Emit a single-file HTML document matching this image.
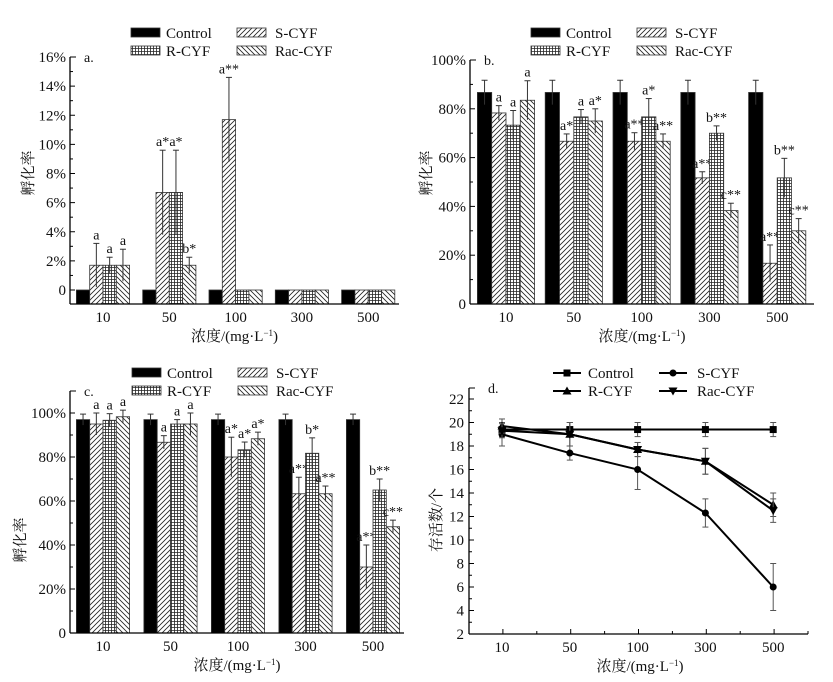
<!DOCTYPE html>
<html><head><meta charset="utf-8"><style>
body{margin:0;background:#fff}
svg{display:block}
text{font-family:"Liberation Serif","Noto Serif CJK SC",serif;fill:#111}
</style></head><body>
<svg id="chart" width="833" height="682" viewBox="0 0 833 682" xmlns="http://www.w3.org/2000/svg">
<defs>
<pattern id="pS" patternUnits="userSpaceOnUse" width="5" height="5"><rect width="5" height="5" fill="#fff"/><path d="M-1,6 L6,-1 M-1,1 L1,-1 M4,6 L6,4" stroke="#222" stroke-width="0.8"/></pattern>
<pattern id="pRac" patternUnits="userSpaceOnUse" width="5" height="5"><rect width="5" height="5" fill="#fff"/><path d="M-1,-1 L6,6 M4,-1 L6,1 M-1,4 L1,6" stroke="#222" stroke-width="0.8"/></pattern>
<pattern id="pR" patternUnits="userSpaceOnUse" width="3" height="3"><rect width="3" height="3" fill="#fff"/><path d="M0,0.5 H3 M0.5,0 V3" stroke="#222" stroke-width="0.8"/></pattern>
</defs>
</svg>
<script>
const categories = ["10","50","100","300","500"];
const seriesNames = ["Control","S-CYF","R-CYF","Rac-CYF"];
// panel a (%)
const aControl=[0,0,0,0,0], aS=[1.7,6.7,11.7,0,0], aR=[1.7,6.7,0,0,0], aRac=[1.7,1.7,0,0,0];
const aErrC=[0,0,0,0,0], aErrS=[1.5,2.9,2.9,0,0], aErrR=[0.55,2.9,0,0,0], aErrRac=[1.1,0.55,0,0,0];
const aLabS=["a","a*","a**","",""], aLabR=["a","a*","","",""], aLabRac=["a","b*","","",""];
const aTicks=[0,2,4,6,8,10,12,14,16];
// panel b (%)
const bControl=[86.7,86.7,86.7,86.7,86.7], bS=[78.3,66.7,66.7,51.7,16.7], bR=[73.3,76.7,76.7,70,51.7], bRac=[83.5,75,66.7,38.3,30];
const bErrC=[5,5,5,5,5], bErrS=[3,3,3.5,2.5,7.5], bErrR=[6,3,7.5,3,8], bErrRac=[8,5,3,3,5];
const bLabS=["a","a*","a**","a**","a**"], bLabR=["a","a","a*","b**","b**"], bLabRac=["a","a*","a**","c**","c**"];
const bTicks=[0,20,40,60,80,100];
// panel c (%)
const cControl=[97,97,97,97,97], cS=[95,86.7,80,63.3,30], cR=[96.7,95,83.3,81.7,65], cRac=[98.3,95,88.3,63.3,48.3];
const cErrC=[2.5,2.5,2.5,2.5,2.5], cErrS=[5,3,9,7.5,10], cErrR=[3,2,3.5,7,5], cErrRac=[3,5,3,3.5,3];
const cLabS=["a","a","a*","a**","a**"], cLabR=["a","a","a*","b*","b**"], cLabRac=["a","a","a*","a**","c**"];
const cTicks=[0,20,40,60,80,100];
// panel d (count)
const dControl=[19.4,19.4,19.4,19.4,19.4], dS=[19,17.4,16,12.3,6], dR=[19.7,19,17.7,16.7,13], dRac=[19.3,19,17.7,16.7,12.5];
const dErrC=[0.6,0.6,0.6,0.6,0.6], dErrS=[1,0.6,1.7,1.2,2], dErrR=[0.6,1,0.6,1.1,1], dErrRac=[0.6,1,0.6,1.1,1];
const dTicks=[2,4,6,8,10,12,14,16,18,20,22];

const NS="http://www.w3.org/2000/svg", svg=document.getElementById("chart");
function el(tag,attrs,parent,txt){const e=document.createElementNS(NS,tag);for(const k in attrs)e.setAttribute(k,attrs[k]);if(txt!==undefined)e.textContent=txt;(parent||svg).appendChild(e);return e;}

function legend(g,x0,y0,line){
  const fills=["#000","url(#pS)","url(#pR)","url(#pRac)"];
  const pos=[[0,0],[106,0],[0,18],[106,18]];
  const marks=["sq","circ","tri","itri"];
  for(let i=0;i<4;i++){
    const lx=x0+pos[i][0], ly=y0+pos[i][1];
    const it=el("g",{},g);
    
    
    if(!line){el("rect",{x:lx,y:ly,width:29,height:9,fill:fills[i],stroke:"#333","stroke-width":0.8},it);}
    else{el("line",{x1:lx,x2:lx+28,y1:ly+5,y2:ly+5,stroke:"#000","stroke-width":2},it);marker(it,marks[i],lx+14,ly+5,3.5);}
    el("text",{x:lx+(i%2?38:35),y:ly+10,"font-size":15},it,seriesNames[i]);
  }
}
function marker(g,t,x,y,r){
  if(t=="sq")el("rect",{x:x-r,y:y-r,width:2*r,height:2*r,fill:"#000"},g);
  else if(t=="circ")el("circle",{cx:x,cy:y,r:r,fill:"#000"},g);
  else if(t=="tri")el("path",{d:`M${x},${y-r-1}L${x+r+1},${y+r}L${x-r-1},${y+r}Z`,fill:"#000"},g);
  else el("path",{d:`M${x},${y+r+1}L${x+r+1},${y-r}L${x-r-1},${y-r}Z`,fill:"#000"},g);
}

function barPanel(o){
  const g=el("g",{});
  
  
  const yS=v=>o.y0-(v-o.vmin)*(o.y0-o.y1)/(o.vmax-o.vmin);
  const cx=i=>o.c0+i*o.step;
  legend(g,o.lx,o.ly,false);
  el("text",{x:o.left+14,y:o.top+5,"font-size":14},g,o.id+".");
  const fills=["#000","url(#pS)","url(#pR)","url(#pRac)"];
  const sN=["control","s-cyf","r-cyf","rac-cyf"];
  for(let i=0;i<categories.length;i++){
    for(let s=0;s<4;s++){
      const v=o.vals[s][i], e=o.errs[s][i];
      const x=cx(i)-2*o.bw+s*o.bw, yt=yS(v);
      const b=el("rect",{x:x,y:yt,width:o.bw,height:o.bottom-yt,fill:fills[s],stroke:"#333","stroke-width":0.8},g);
      
      
      const mx=x+o.bw/2;
      if(e>0){
        el("line",{x1:mx,x2:mx,y1:yS(v+e),y2:yS(v-e),stroke:"#333","stroke-width":1},g);
        el("line",{x1:mx-3,x2:mx+3,y1:yS(v+e),y2:yS(v+e),stroke:"#333","stroke-width":1},g);
      }
      if(s>0){const lab=o.labs[s-1][i]; if(lab) el("text",{x:mx,y:yS(v+e)-4,"font-size":14,"text-anchor":"middle"},g,lab);}
    }
    el("text",{x:cx(i),y:o.bottom+18,"font-size":15,"text-anchor":"middle"},g,categories[i]);
  }
  el("line",{x1:o.left,x2:o.left,y1:o.top,y2:o.bottom,stroke:"#000","stroke-width":1.3},g);
  el("line",{x1:o.left,x2:o.right,y1:o.bottom,y2:o.bottom,stroke:"#000","stroke-width":1.3},g);
  el("line",{x1:o.left,x2:o.left+6,y1:o.top,y2:o.top,stroke:"#000"},g);
  for(let k=0;k<o.ticks.length;k++){
    const t=o.ticks[k], y=yS(t);
    el("line",{x1:o.left,x2:o.left+5,y1:y,y2:y,stroke:"#000"},g);
    if(k<o.ticks.length-1){const ym=yS((t+o.ticks[k+1])/2);el("line",{x1:o.left,x2:o.left+3,y1:ym,y2:ym,stroke:"#000"},g);}
    el("text",{x:o.left-4,y:y+5,"font-size":15,"text-anchor":"end"},g,t==0?"0":t+"%");
  }
  el("text",{x:o.ylx,y:o.yly,"font-size":15,"text-anchor":"middle",transform:`rotate(-90 ${o.ylx} ${o.yly})`},g,"孵化率");
  const xt=el("text",{x:(o.left+o.right)/2,y:o.bottom+37,"font-size":15,"text-anchor":"middle"},g);
  xt.innerHTML='浓度/(mg·L<tspan dy="-5" font-size="9">−1</tspan><tspan dy="5">)</tspan>';
}

barPanel({id:"a",left:70,right:399,top:57,bottom:304,y0:290,y1:57,vmin:0,vmax:16,c0:103,step:66.3,bw:13.3,
  vals:[aControl,aS,aR,aRac],errs:[aErrC,aErrS,aErrR,aErrRac],labs:[aLabS,aLabR,aLabRac],ticks:aTicks,lx:131,ly:28,ylx:33,yly:173});
barPanel({id:"b",left:470,right:814,top:60,bottom:304,y0:304,y1:60,vmin:0,vmax:100,c0:506,step:67.8,bw:14.3,
  vals:[bControl,bS,bR,bRac],errs:[bErrC,bErrS,bErrR,bErrRac],labs:[bLabS,bLabR,bLabRac],ticks:bTicks,lx:531,ly:28,ylx:431,yly:173});
barPanel({id:"c",left:70,right:404,top:391,bottom:633,y0:633,y1:413,vmin:0,vmax:100,c0:103,step:67.5,bw:13.3,
  vals:[cControl,cS,cR,cRac],errs:[cErrC,cErrS,cErrR,cErrRac],labs:[cLabS,cLabR,cLabRac],ticks:cTicks,lx:132,ly:368,ylx:25,yly:540});

(function(){
  const g=el("g",{});
  
  
  const left=469,right=808,top=388,bottom=634;
  const yS=v=>634-(v-2)*11.75;
  const xS=i=>502+i*67.8;
  legend(g,553,368,true);
  el("text",{x:488,y:393,"font-size":14},g,"d.");
  el("line",{x1:left,x2:left,y1:top,y2:bottom,stroke:"#000","stroke-width":1.3},g);
  el("line",{x1:left,x2:right,y1:bottom,y2:bottom,stroke:"#000","stroke-width":1.3},g);
  el("line",{x1:left,x2:left+6,y1:top,y2:top,stroke:"#000"},g);
  for(let k=0;k<dTicks.length;k++){
    const y=yS(dTicks[k]);
    el("line",{x1:left,x2:left+5,y1:y,y2:y,stroke:"#000"},g);
    if(k<dTicks.length-1){const ym=yS(dTicks[k]+1);el("line",{x1:left,x2:left+3,y1:ym,y2:ym,stroke:"#000"},g);}
    el("text",{x:left-5,y:y+5,"font-size":15,"text-anchor":"end"},g,String(dTicks[k]));
  }
  for(let i=0;i<=10;i++){const x=left+i*33.9;el("line",{x1:x,x2:x,y1:bottom,y2:bottom-(i%2?5:3),stroke:"#000"},g);}
  categories.forEach((c,i)=>el("text",{x:xS(i),y:bottom+18,"font-size":15,"text-anchor":"middle"},g,c));
  el("text",{x:441,y:520,"font-size":15,"text-anchor":"middle",transform:"rotate(-90 441 520)"},g,"存活数/个");
  const xt=el("text",{x:640,y:671,"font-size":15,"text-anchor":"middle"},g);
  xt.innerHTML='浓度/(mg·L<tspan dy="-5" font-size="9">−1</tspan><tspan dy="5">)</tspan>';
  const sers=[[dControl,dErrC,"sq","control"],[dS,dErrS,"circ","s-cyf"],[dR,dErrR,"tri","r-cyf"],[dRac,dErrRac,"itri","rac-cyf"]];
  sers.forEach(([vals,errs,m,n])=>{
    const sg=el("g",{},g);
    
    
    vals.forEach((v,i)=>{
      const x=xS(i);
      el("line",{x1:x,x2:x,y1:yS(v+errs[i]),y2:yS(v-errs[i]),stroke:"#555","stroke-width":1},sg);
      el("line",{x1:x-3,x2:x+3,y1:yS(v+errs[i]),y2:yS(v+errs[i]),stroke:"#555"},sg);
      el("line",{x1:x-3,x2:x+3,y1:yS(v-errs[i]),y2:yS(v-errs[i]),stroke:"#555"},sg);
    });
    el("polyline",{points:vals.map((v,i)=>xS(i)+","+yS(v)).join(" "),fill:"none",stroke:"#000","stroke-width":2},sg);
    vals.forEach((v,i)=>marker(sg,m,xS(i),yS(v),3.5));
  });
})();
</script>
</body></html>
